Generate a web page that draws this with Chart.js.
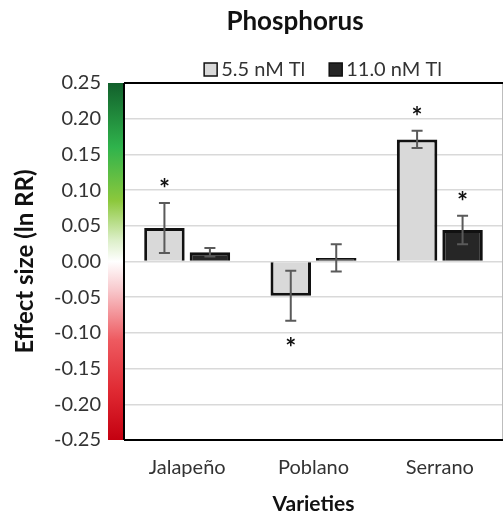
<!DOCTYPE html>
<html>
<head>
<meta charset="utf-8">
<script src="https://cdn.jsdelivr.net/npm/chart.js@4.4.0/dist/chart.umd.min.js"></script>
<style>
  html, body { margin: 0; padding: 0; background: #fff; }
  #wrap { width: 504px; height: 519px; }
</style>
</head>
<body>
<div id="wrap"><canvas id="grafico"></canvas></div>
<script>
// ── Dados ──
const variedades = ["Jalapeño", "Poblano", "Serrano"];
const nomesSeries = ["5.5 nM Tl", "11.0 nM Tl"];
const valores55  = [0.047, -0.048, 0.171];
const valores110 = [0.013, 0.005, 0.044];
const erro55  = [0.035, 0.035, 0.012];
const erro110 = [0.006, 0.019, 0.020];
const signif55  = [true, true, true];
const signif110 = [false, false, true];
const ticksY = [-0.25, -0.20, -0.15, -0.10, -0.05, 0.00, 0.05, 0.10, 0.15, 0.20, 0.25];

const FONTE = "Lato, 'Open Sans', sans-serif";
const COR_TEXTO = "#333";

// ── Plugin: barra de gradiente, barras de erro, asteriscos, moldura, título e legenda ──
const extras = {
    id: "extras",
    afterDatasetsDraw(chart) {
        const ctx = chart.ctx;
        const y = chart.scales.y;
        const erros = [erro55, erro110];
        const sigs  = [signif55, signif110];
        chart.data.datasets.forEach((ds, di) => {
            const meta = chart.getDatasetMeta(di);
            meta.data.forEach((bar, i) => {
                const v = ds.data[i];
                const e = erros[di][i];
                const yTop = y.getPixelForValue(v + e);
                const yBot = y.getPixelForValue(v - e);
                ctx.save();
                ctx.strokeStyle = "#5a5a5a";
                ctx.lineWidth = 2;
                ctx.beginPath();
                ctx.moveTo(bar.x, yTop); ctx.lineTo(bar.x, yBot);
                ctx.moveTo(bar.x - 5.5, yTop); ctx.lineTo(bar.x + 5.5, yTop);
                ctx.moveTo(bar.x - 5.5, yBot); ctx.lineTo(bar.x + 5.5, yBot);
                ctx.stroke();
                if (sigs[di][i]) {
                    ctx.fillStyle = "#111";
                    ctx.font = "bold 26px " + FONTE;
                    ctx.textAlign = "center";
                    ctx.textBaseline = "middle";
                    const ya = v >= 0 ? yTop - 13 : yBot + 28;
                    ctx.fillText("*", bar.x, ya);
                }
                ctx.restore();
            });
        });
    },
    afterDraw(chart) {
        const ctx = chart.ctx;
        const a = chart.chartArea;
        ctx.save();
        // gradiente verde → branco → vermelho
        const g = ctx.createLinearGradient(0, a.top, 0, a.bottom);
        g.addColorStop(0.00, "#12602c");
        g.addColorStop(0.18, "#2fb34c");
        g.addColorStop(0.33, "#8cc83c");
        g.addColorStop(0.44, "#dcefc8");
        g.addColorStop(0.50, "#ffffff");
        g.addColorStop(0.58, "#f8c8cc");
        g.addColorStop(0.72, "#ee5a60");
        g.addColorStop(0.86, "#e02a33");
        g.addColorStop(1.00, "#c40010");
        ctx.fillStyle = g;
        ctx.fillRect(a.left - 16, a.top, 15, a.bottom - a.top);

        // moldura
        ctx.strokeStyle = "#bdbdbd";
        ctx.lineWidth = 1;
        ctx.beginPath();
        ctx.moveTo(a.right - 0.5, a.top); ctx.lineTo(a.right - 0.5, a.bottom);
        ctx.stroke();
        ctx.strokeStyle = "#000";
        ctx.lineWidth = 2;
        ctx.beginPath();
        ctx.moveTo(a.left, a.top); ctx.lineTo(a.right, a.top);
        ctx.moveTo(a.left, a.top); ctx.lineTo(a.left, a.bottom);
        ctx.moveTo(a.left, a.bottom); ctx.lineTo(a.right, a.bottom);
        ctx.stroke();

        // título
        ctx.fillStyle = "#111";
        ctx.font = "bold 26px " + FONTE;
        ctx.textAlign = "center";
        ctx.textBaseline = "middle";
        ctx.fillText("Phosphorus", 295, 22);

        // legenda
        ctx.font = "20px " + FONTE;
        ctx.textAlign = "left";
        const cores = ["#d9d9d9", "#262626"];
        const larguras = chart.data.datasets.map(d => ctx.measureText(d.label).width);
        const total = 17 + larguras[0] + 24 + 17 + larguras[1];
        let x = 323 - total / 2;
        chart.data.datasets.forEach((d, i) => {
            ctx.fillStyle = cores[i];
            ctx.fillRect(x, 63, 13, 13);
            ctx.strokeStyle = "#111";
            ctx.lineWidth = 1.5;
            ctx.strokeRect(x, 63, 13, 13);
            ctx.fillStyle = COR_TEXTO;
            ctx.fillText(d.label, x + 17, 70);
            x += 17 + larguras[i] + 24;
        });
        ctx.restore();
    }
};

new Chart(document.getElementById("grafico"), {
    type: "bar",
    data: {
        labels: variedades,
        datasets: [
            {
                label: nomesSeries[0],
                data: valores55,
                backgroundColor: "#d9d9d9",
                borderColor: "#111",
                borderWidth: 3,
            },
            {
                label: nomesSeries[1],
                data: valores110,
                backgroundColor: "#262626",
                borderColor: "#111",
                borderWidth: 3,
            }
        ]
    },
    options: {
        responsive: true,
        maintainAspectRatio: false,
        animation: false,
        devicePixelRatio: 1,
        layout: { padding: { top: 83, right: 1, left: 0, bottom: 0 } },
        datasets: { bar: { categoryPercentage: 0.72, barPercentage: 0.89 } },
        plugins: {
            legend: { display: false },
            title: { display: false },
            tooltip: { enabled: false }
        },
        scales: {
            x: {
                grid: { display: false, drawTicks: false },
                border: { display: false },
                ticks: {
                    padding: 16,
                    color: COR_TEXTO,
                    font: { family: FONTE, size: 20 }
                },
                title: {
                    display: true,
                    text: "Varieties",
                    color: "#111",
                    padding: { top: 0, bottom: 2 },
                    font: { family: FONTE, size: 21, weight: "bold" }
                },
                afterFit: s => { s.height = 79; }
            },
            y: {
                min: -0.25,
                max: 0.25,
                afterBuildTicks: s => { s.ticks = ticksY.map(v => ({ value: v })); },
                grid: { color: "#d9d9d9", lineWidth: 1.5, drawTicks: false },
                border: { display: false },
                ticks: {
                    padding: 23,
                    color: COR_TEXTO,
                    font: { family: FONTE, size: 20 },
                    callback: v => v.toFixed(2)
                },
                title: {
                    display: true,
                    text: "Effect size (ln RR)",
                    color: "#111",
                    padding: { top: 11, bottom: 0 },
                    font: { family: FONTE, size: 24, weight: "bold" }
                },
                afterFit: s => { s.width = 124; }
            }
        }
    },
    plugins: [extras]
});
</script>
</body>
</html>
